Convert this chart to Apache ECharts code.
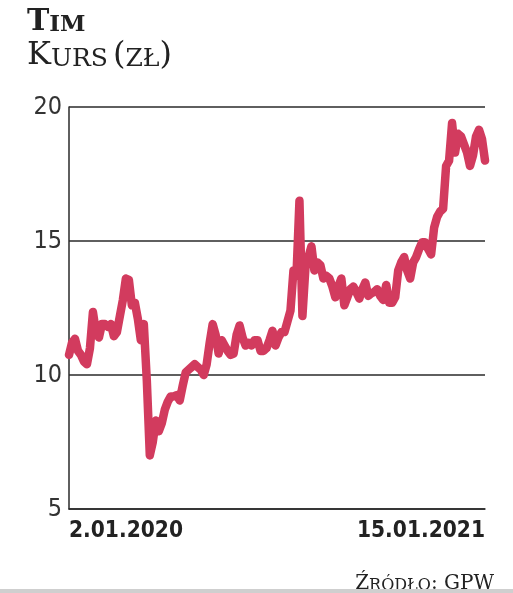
<!DOCTYPE html>
<html>
<head>
<meta charset="utf-8">
<script src="https://cdn.jsdelivr.net/npm/echarts@6/dist/echarts.min.js"></script>
<style>
  html, body { margin: 0; padding: 0; background: #fff; }
  #chart { width: 513px; height: 593px; }
</style>
</head>
<body>
<div id="chart"></div>
<script>
// kurs TIM, notowania dzienne (odczyt z wykresu)
const prices = [
  10.75, 11.2, 11.35, 10.9, 10.75, 10.5, 10.4, 11.0, 12.35, 11.6,
  11.4, 11.9, 11.9, 11.8, 11.9, 11.45, 11.6, 12.2, 12.8, 13.6,
  13.55, 12.6, 12.7, 12.1, 11.3, 11.9, 9.8, 7.0, 7.5, 8.3,
  7.9, 8.2, 8.7, 9.0, 9.2, 9.2, 9.25, 9.05, 9.6, 10.1,
  10.2, 10.3, 10.4, 10.3, 10.2, 10.0, 10.4, 11.2, 11.9, 11.5,
  10.8, 11.3, 11.1, 10.9, 10.75, 10.8, 11.5, 11.85, 11.4, 11.1,
  11.2, 11.1, 11.3, 11.3, 10.9, 10.9, 11.0, 11.3, 11.65, 11.1,
  11.4, 11.6, 11.6, 12.0, 12.4, 13.9, 13.7, 16.5, 12.2, 14.0,
  14.4, 14.8, 13.9, 14.2, 14.1, 13.6, 13.7, 13.6, 13.3, 12.9,
  13.3, 13.6, 12.6, 12.9, 13.2, 13.3, 13.1, 12.85, 13.2, 13.45,
  12.95, 13.05, 13.1, 13.2, 12.95, 12.8, 13.36, 12.7, 12.7, 12.9,
  13.9, 14.2, 14.4, 13.9, 13.6, 14.2, 14.4, 14.7, 14.95, 14.95,
  14.7, 14.5, 15.5, 15.9, 16.1, 16.2, 17.8, 18.0, 19.4, 18.3,
  19.0, 18.9, 18.6, 18.3, 17.8, 18.2, 18.9, 19.15, 18.8, 18.0
];
const firstDate = '2.01.2020';
const lastDate = '15.01.2021';
const yMin = 5, yMax = 20, yStep = 5;

const days = prices.map((_, i) => i === 0 ? firstDate : (i === prices.length - 1 ? lastDate : ''));

const chart = echarts.init(document.getElementById('chart'));
chart.setOption({
  animation: false,
  backgroundColor: '#fff',
  title: [
    {
      text: '{a|T}{b|IM}',
      left: 22, top: 2,
      textStyle: {
        rich: {
          a: { fontFamily: 'DejaVu Serif', fontWeight: 'bold', fontSize: 30, lineHeight: 30, color: '#222', verticalAlign: 'bottom' },
          b: { fontFamily: 'DejaVu Serif', fontWeight: 'bold', fontSize: 23, lineHeight: 23, color: '#222', verticalAlign: 'bottom' }
        }
      }
    },
    {
      text: '{a|K}{b|URS} {a|(}{b|ZŁ}{a|)}',
      left: 22, top: 35,
      textStyle: {
        rich: {
          a: { fontFamily: 'DejaVu Serif', fontWeight: 'normal', fontSize: 32, lineHeight: 32, color: '#222', verticalAlign: 'bottom' },
          b: { fontFamily: 'DejaVu Serif', fontWeight: 'normal', fontSize: 25, lineHeight: 25, color: '#222', verticalAlign: 'bottom' }
        }
      }
    },
    {
      text: '{a|Ź}{b|RÓDŁO}{a|: GPW}',
      right: 14, top: 569,
      textStyle: {
        rich: {
          a: { fontFamily: 'DejaVu Serif', fontWeight: 'normal', fontSize: 20, lineHeight: 20, color: '#222', verticalAlign: 'bottom' },
          b: { fontFamily: 'DejaVu Serif', fontWeight: 'normal', fontSize: 16, lineHeight: 16, color: '#222', verticalAlign: 'bottom' }
        }
      }
    }
  ],
  graphic: [
    { type: 'rect', left: 0, top: 589, shape: { width: 513, height: 4 }, style: { fill: '#cfcfcf' }, z: 10 }
  ],
  grid: { left: 69, right: 28, top: 107, bottom: 84 },
  xAxis: {
    type: 'category',
    data: days,
    boundaryGap: false,
    axisLine: { lineStyle: { color: '#2a2a2a', width: 1.5 } },
    axisTick: { show: false },
    axisLabel: {
      interval: 0,
      margin: 11,
      alignMinLabel: 'left',
      alignMaxLabel: 'right',
      fontFamily: 'DejaVu Sans Condensed',
      fontWeight: 'bold',
      fontSize: 22.5,
      color: '#222'
    }
  },
  yAxis: {
    type: 'value',
    min: yMin, max: yMax, interval: yStep,
    axisLine: { show: true, lineStyle: { color: '#2a2a2a', width: 1.5 } },
    axisTick: { show: false },
    splitLine: { lineStyle: { color: '#2a2a2a', width: 1.5 } },
    axisLabel: {
      margin: 7,
      fontFamily: 'DejaVu Sans Condensed',
      fontSize: 25,
      color: '#333',
      padding: [0, 0, 3, 0]
    }
  },
  series: [
    {
      type: 'line',
      data: prices,
      symbol: 'none',
      lineStyle: { color: '#d23b5e', width: 8.5, cap: 'round', join: 'round' }
    }
  ]
});
</script>
</body>
</html>
